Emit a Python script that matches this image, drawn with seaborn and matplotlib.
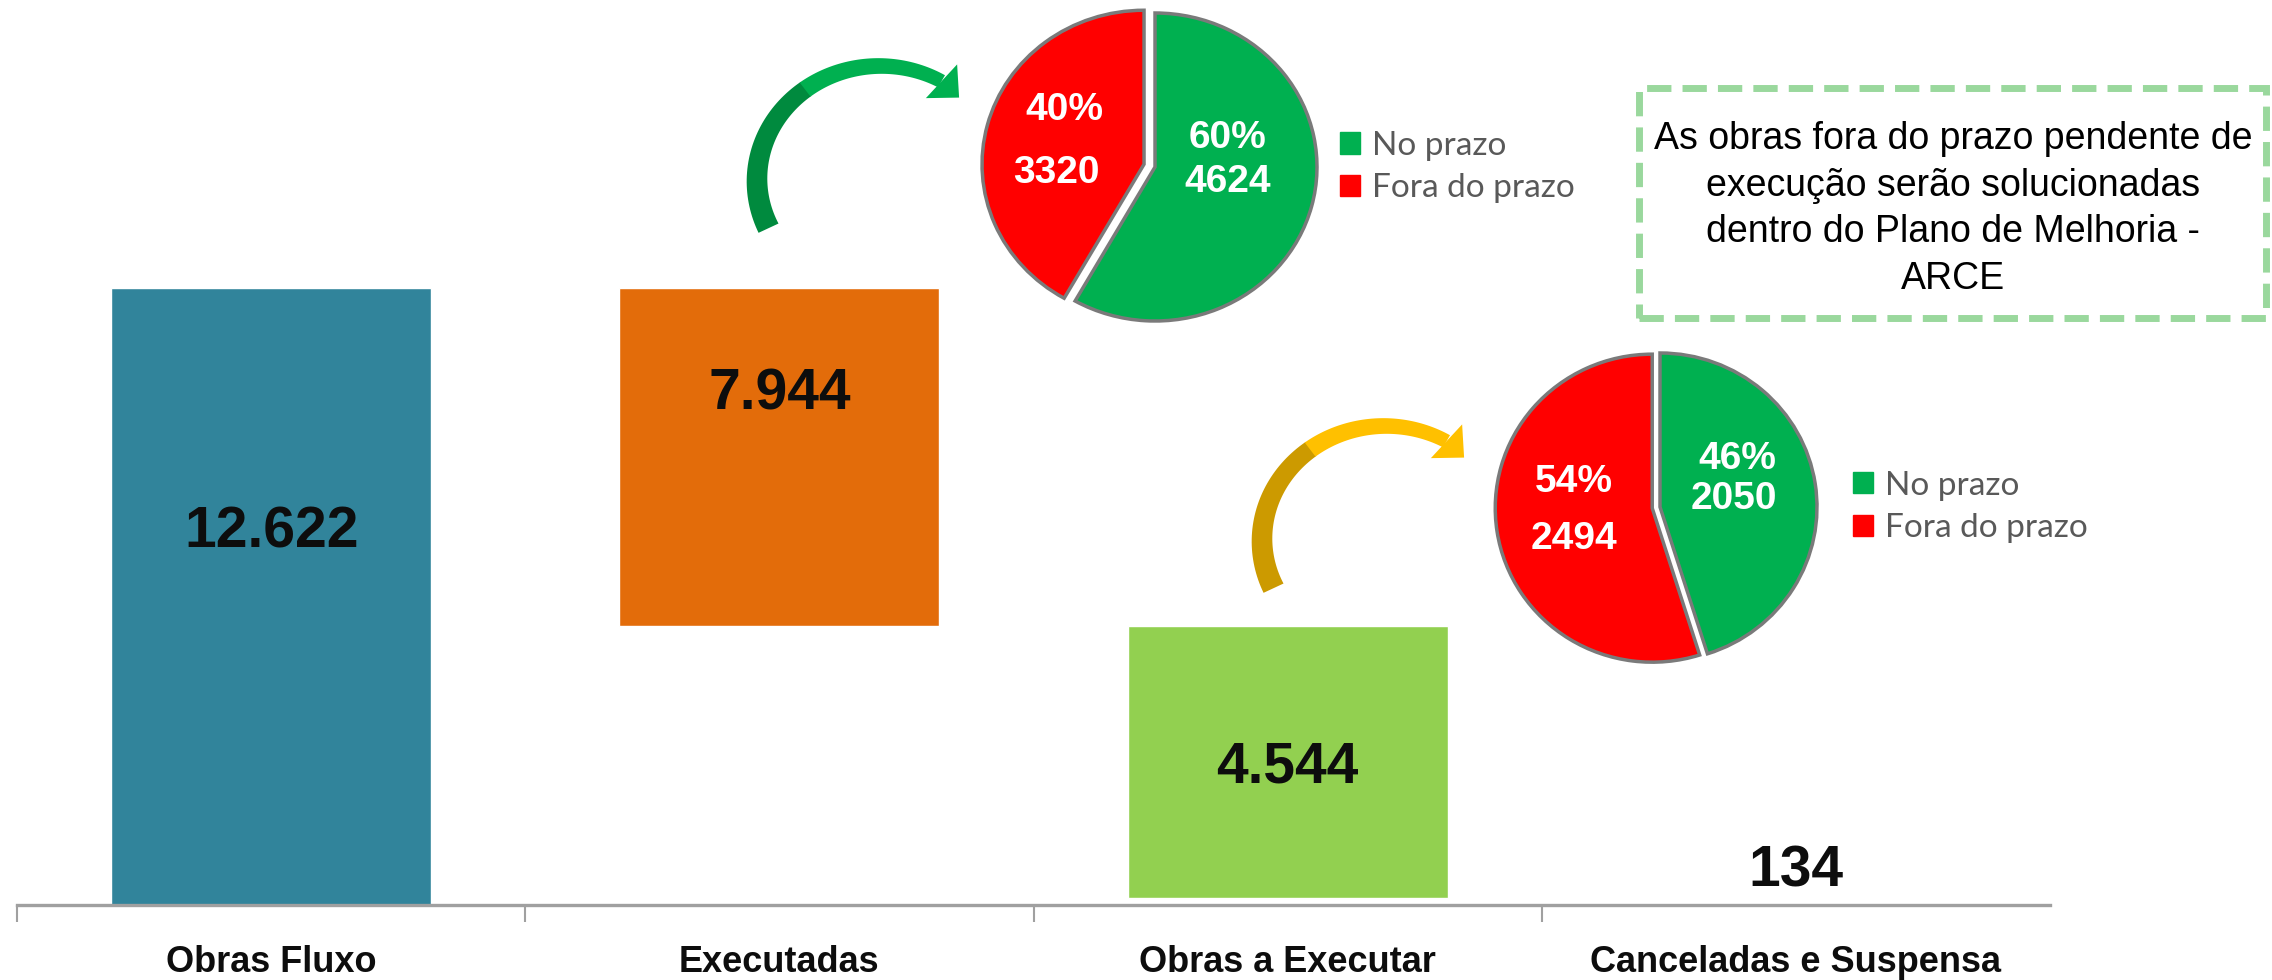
import matplotlib
matplotlib.use('Agg')
import matplotlib.pyplot as plt
import matplotlib.patches as mpatches
import seaborn as sns
import pandas as pd
import numpy as np

# dados
categorias = ['Obras Fluxo', 'Executadas', 'Obras a Executar', 'Canceladas e Suspensa']
valores = [12622, 7944, 4544, 134]
# no original os degraus nao seguem os rotulos: alturas como desenhadas (estimadas)
alturas_desenhadas = [12622, 6914, 5574, 134]

pizza_rotulos = ['No prazo', 'Fora do prazo']
executadas_qtd = [4624, 3320]
executadas_pct = [60, 40]
executar_qtd = [2050, 2494]
executar_pct = [46, 54]

nota = ('As obras fora do prazo pendente de\nexecução serão solucionadas\n'
        'dentro do Plano de Melhoria -\nARCE')

cores_barras = ['#31849b', '#e36c0a', '#92d050', '#ffffff']
verde = '#00b050'
vermelho = '#ff0000'

W, H = 2272, 980

sns.set_style('white')
plt.rcParams['font.family'] = ['Liberation Sans', 'DejaVu Sans']


def fig_xy(x, y):
    return (x / W, 1 - y / H)


# base de cada degrau da cascata
bases = [0]
resto = alturas_desenhadas[0]
for v in alturas_desenhadas[1:]:
    resto -= v
    bases.append(resto)

fig = plt.figure(figsize=(W / 100, H / 100), dpi=100)
ax = fig.add_axes([17 / W, 75 / H, 2033 / W, 905 / H])

df = pd.DataFrame({'etapa': categorias, 'valor': alturas_desenhadas})
sns.barplot(data=df, x='etapa', y='valor', hue='etapa', palette=cores_barras,
            width=0.63, saturation=1, legend=False, ax=ax)
for patch, base in zip(ax.patches, bases):
    patch.set_y(base)
ax.patches[-1].set_visible(False)

ax.set_xlim(-0.5, 3.5)
ax.set_ylim(0, 18500)
ax.set_yticks([])
ax.set_xlabel('')
ax.set_ylabel('')
sns.despine(ax=ax, left=True, top=True, right=True)
ax.spines['bottom'].set_color('#a0a0a0')
ax.spines['bottom'].set_linewidth(2.4)
ax.set_xticks([-0.5, 0.5, 1.5, 2.5], minor=True)
ax.tick_params(axis='x', which='minor', bottom=True, length=12, width=1.5,
               color='#a0a0a0', direction='out')
ax.tick_params(axis='x', which='major', bottom=True, length=0, pad=29)
for lab in ax.get_xticklabels():
    lab.set_fontsize(26)
    lab.set_fontweight('bold')
    lab.set_color('#0d0d0d')

rotulo_y = [7300, 10130, 2500, 370]
for i, (v, y) in enumerate(zip(valores, rotulo_y)):
    ax.text(i, y, f'{v:,}'.replace(',', '.'), ha='center', va='baseline',
            fontsize=41, fontweight='bold', color='#0d0d0d')


def pizza(cx, cy, rx, ry, qtd, pct, explode, pos_pct, pos_qtd, leg_x):
    axp = fig.add_axes([(cx - 1.2 * rx) / W, 1 - (cy + 1.2 * ry) / H,
                        2.4 * rx / W, 2.4 * ry / H])
    axp.pie(qtd, colors=[verde, vermelho], startangle=90, counterclock=False,
            explode=[0, explode], wedgeprops=dict(edgecolor='#7a7a7a', linewidth=2.5))
    axp.set_xlim(-1.2, 1.2)
    axp.set_ylim(-1.2, 1.2)
    axp.set_aspect('auto')
    for p, q, (px, py), (qx, qy) in zip(pct, qtd, pos_pct, pos_qtd):
        axp.text(px, py, f'{p}%', ha='center', va='center', fontsize=28,
                 fontweight='bold', color='white')
        axp.text(qx, qy, f'{q}', ha='center', va='center', fontsize=28,
                 fontweight='bold', color='white')
    fig.legend(handles=[mpatches.Patch(color=verde), mpatches.Patch(color=vermelho)],
               labels=pizza_rotulos, loc='center left', bbox_to_anchor=fig_xy(leg_x, cy),
               frameon=False, labelcolor='#595959', handlelength=0.6, handleheight=0.6,
               handletextpad=0.35, labelspacing=0.38, borderpad=0, borderaxespad=0,
               prop={'family': ['Lato', 'DejaVu Sans'], 'size': 24})


pizza(1155, 167, 162, 154, executadas_qtd, executadas_pct, 0.07,
      [(0.45, 0.19), (-0.56, 0.37)], [(0.45, -0.10), (-0.61, -0.04)], 1340)
pizza(1660, 507, 157, 154, executar_qtd, executar_pct, 0.05,
      [(0.49, 0.31), (-0.55, 0.16)], [(0.47, 0.05), (-0.55, -0.21)], 1853)


def seta(cx, cy, cor_clara, cor_escura, rx=123, ry=114, t0=205, t1=60, t_meio=127,
         w0=22, w1=14, cab_larg=46, cab_comp=24):
    # seta curva em pixels da figura (y para baixo), corpo afinando ate a ponta
    def ponto(t, dr):
        tr = np.radians(t)
        return np.column_stack([(cx + (rx + dr) * np.cos(tr)) / W,
                                1 - (cy - (ry + dr) * np.sin(tr)) / H])

    for ta, tb, cor in ((t0, t_meio, cor_escura), (t_meio + 0.5, t1, cor_clara)):
        ts = np.linspace(ta, tb, 50)
        w = w0 + (w1 - w0) * (t0 - ts) / (t0 - t1)
        verts = np.vstack([ponto(ts, w / 2), ponto(ts[::-1], -w[::-1] / 2)])
        fig.add_artist(mpatches.Polygon(verts, closed=True, transform=fig.transFigure,
                                        facecolor=cor, edgecolor='none'))
    tr = np.radians(t1)
    bx, by = cx + rx * np.cos(tr), cy - ry * np.sin(tr)
    td = np.radians(t1 - 15)
    u = np.array([rx * np.sin(td), ry * np.cos(td)])
    u /= np.hypot(*u)
    n = np.array([-u[1], u[0]])
    cab = [(bx + n[0] * cab_larg / 2, by + n[1] * cab_larg / 2),
           (bx - n[0] * cab_larg / 2, by - n[1] * cab_larg / 2),
           (bx + u[0] * cab_comp, by + u[1] * cab_comp)]
    fig.add_artist(mpatches.Polygon([fig_xy(x, y) for x, y in cab], closed=True,
                                    transform=fig.transFigure, facecolor=cor_clara,
                                    edgecolor='none'))


seta(880, 180, '#00b050', '#008a3e')
seta(1385, 540, '#ffc000', '#cc9a00')

# caixa de observacao
caixa = mpatches.Rectangle(fig_xy(1639, 318), (2266 - 1639) / W, (318 - 88) / H,
                           transform=fig.transFigure, fill=False, edgecolor='#9ad89d',
                           linewidth=5, linestyle=(0, (3.5, 1.6)))
fig.add_artist(caixa)
fig.text(*fig_xy(1953, 209), nota, ha='center', va='center', fontsize=27,
         family=['Liberation Sans', 'DejaVu Sans'], color='black', linespacing=1.37)

fig.savefig('out.png', dpi=100)
